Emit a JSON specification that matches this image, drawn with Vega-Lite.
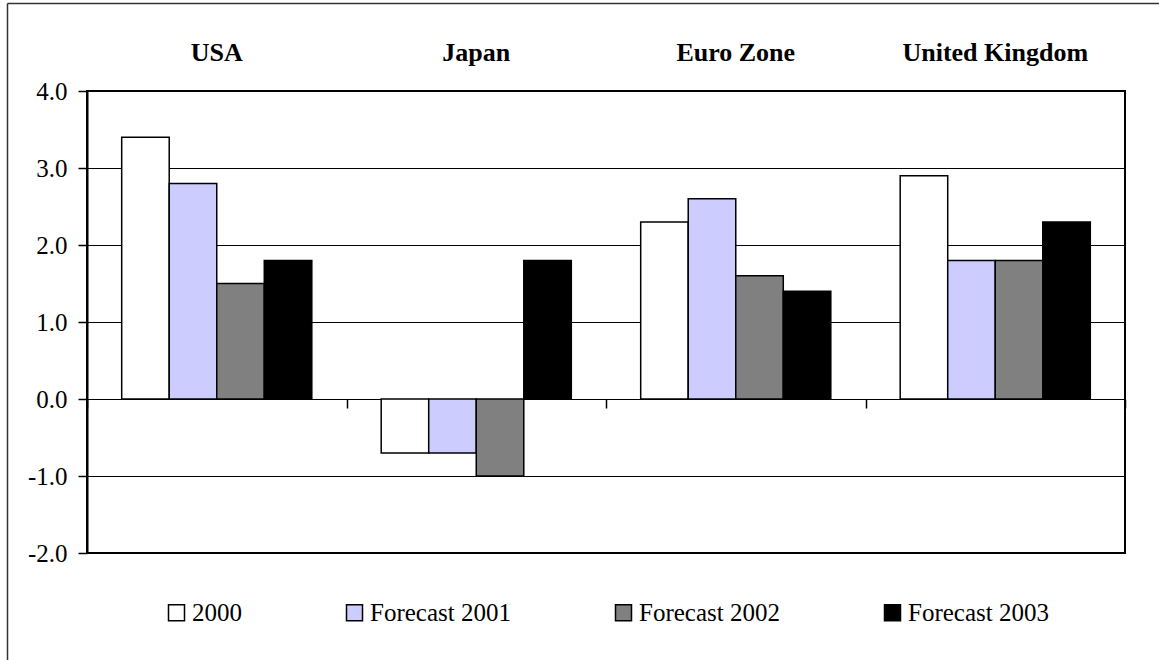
{
  "$schema": "https://vega.github.io/schema/vega-lite/v6.json",
  "width": 1038,
  "height": 462,
  "autosize": {"type": "none"},
  "padding": {"left": 87, "top": 91, "right": 34, "bottom": 107},
  "background": "white",
  "data": {
    "values": [
      {"country": "USA", "series": "2000", "value": 3.4},
      {"country": "USA", "series": "Forecast 2001", "value": 2.8},
      {"country": "USA", "series": "Forecast 2002", "value": 1.5},
      {"country": "USA", "series": "Forecast 2003", "value": 1.8},
      {"country": "Japan", "series": "2000", "value": -0.7},
      {"country": "Japan", "series": "Forecast 2001", "value": -0.7},
      {"country": "Japan", "series": "Forecast 2002", "value": -1.0},
      {"country": "Japan", "series": "Forecast 2003", "value": 1.8},
      {"country": "Euro Zone", "series": "2000", "value": 2.3},
      {"country": "Euro Zone", "series": "Forecast 2001", "value": 2.6},
      {"country": "Euro Zone", "series": "Forecast 2002", "value": 1.6},
      {"country": "Euro Zone", "series": "Forecast 2003", "value": 1.4},
      {"country": "United Kingdom", "series": "2000", "value": 2.9},
      {"country": "United Kingdom", "series": "Forecast 2001", "value": 1.8},
      {"country": "United Kingdom", "series": "Forecast 2002", "value": 1.8},
      {"country": "United Kingdom", "series": "Forecast 2003", "value": 2.3}
    ]
  },
  "layer": [
    {
      "mark": {"type": "bar", "stroke": "black", "strokeWidth": 1.5},
      "encoding": {
        "x": {
          "field": "country",
          "type": "nominal",
          "sort": ["USA", "Japan", "Euro Zone", "United Kingdom"],
          "scale": {"paddingInner": 0, "paddingOuter": 0},
          "axis": {
            "orient": "top",
            "title": null,
            "domain": false,
            "ticks": false,
            "tickSize": 0,
            "grid": false,
            "labelAngle": 0,
            "labelFont": "Liberation Serif",
            "labelFontWeight": "bold",
            "labelFontSize": 26,
            "labelColor": "black",
            "labelBaseline": "alphabetic",
            "labelPadding": 31,
            "labelLimit": 500
          }
        },
        "xOffset": {
          "field": "series",
          "type": "nominal",
          "sort": ["2000", "Forecast 2001", "Forecast 2002", "Forecast 2003"],
          "scale": {"paddingInner": 0, "paddingOuter": 0.73}
        },
        "y": {
          "field": "value",
          "type": "quantitative",
          "scale": {"domain": [-2, 4], "nice": false, "zero": false},
          "axis": {
            "orient": "left",
            "title": null,
            "values": [-2, -1, 0, 1, 2, 3, 4],
            "labelExpr": "replace(format(datum.value, '.1f'), '\u2212', '-')",
            "grid": true,
            "gridColor": "black",
            "gridWidth": 1,
            "gridOpacity": 1,
            "domain": true,
            "domainColor": "black",
            "domainWidth": 2,
            "ticks": true,
            "tickColor": "black",
            "tickWidth": 1.5,
            "tickSize": 9,
            "labelFont": "Liberation Serif",
            "labelFontSize": 25,
            "labelColor": "black",
            "labelPadding": 11
          }
        },
        "color": {
          "field": "series",
          "type": "nominal",
          "sort": ["2000", "Forecast 2001", "Forecast 2002", "Forecast 2003"],
          "scale": {
            "domain": ["2000", "Forecast 2001", "Forecast 2002", "Forecast 2003"],
            "range": ["#ffffff", "#ccccff", "#808080", "#000000"]
          },
          "legend": {
            "title": null,
            "orient": "none",
            "direction": "horizontal",
            "legendX": 77,
            "legendY": 509,
            "padding": 0,
            "symbolType": "square",
            "symbolSize": 256,
            "symbolStrokeColor": "black",
            "symbolStrokeWidth": 1.5,
            "symbolOpacity": 1,
            "labelFont": "Liberation Serif",
            "labelFontSize": 25,
            "labelColor": "black",
            "labelOffset": 3,
            "columnPadding": 100,
            "labelLimit": 400
          }
        }
      }
    },
    {
      "mark": {"type": "bar", "opacity": 0},
      "encoding": {
        "x": {
          "field": "country",
          "type": "nominal",
          "sort": ["USA", "Japan", "Euro Zone", "United Kingdom"],
          "scale": {"paddingInner": 0, "paddingOuter": 0},
          "axis": {
            "orient": "bottom",
            "offset": -154,
            "title": null,
            "domain": false,
            "labels": false,
            "grid": false,
            "ticks": true,
            "tickBand": "extent",
            "tickColor": "black",
            "tickWidth": 1.5,
            "tickSize": 9
          }
        },
        "y": {
          "field": "value",
          "type": "quantitative",
          "scale": {"domain": [-2, 4], "nice": false, "zero": false},
          "axis": null
        }
      }
    },
    {
      "data": {"values": [{"a": 0}]},
      "mark": {"type": "point", "opacity": 0},
      "encoding": {
        "x": {
          "field": "a",
          "type": "quantitative",
          "scale": {"domain": [0, 1], "range": [-80, 1072], "nice": false, "zero": false},
          "axis": {
            "orient": "top",
            "offset": 88,
            "title": null,
            "labels": false,
            "ticks": false,
            "grid": false,
            "domain": true,
            "domainColor": "#333333",
            "domainWidth": 1.5
          }
        },
        "y": {
          "field": "a",
          "type": "quantitative",
          "scale": {"domain": [0, 1], "range": [569, -88], "nice": false, "zero": false},
          "axis": {
            "orient": "left",
            "offset": 80,
            "title": null,
            "labels": false,
            "ticks": false,
            "grid": false,
            "domain": true,
            "domainColor": "#333333",
            "domainWidth": 1.5
          }
        }
      }
    }
  ],
  "resolve": {
    "scale": {"x": "independent", "y": "independent"},
    "axis": {"x": "independent", "y": "independent"}
  },
  "config": {
    "view": {"stroke": "black", "strokeWidth": 2},
    "font": "Liberation Serif"
  }
}
